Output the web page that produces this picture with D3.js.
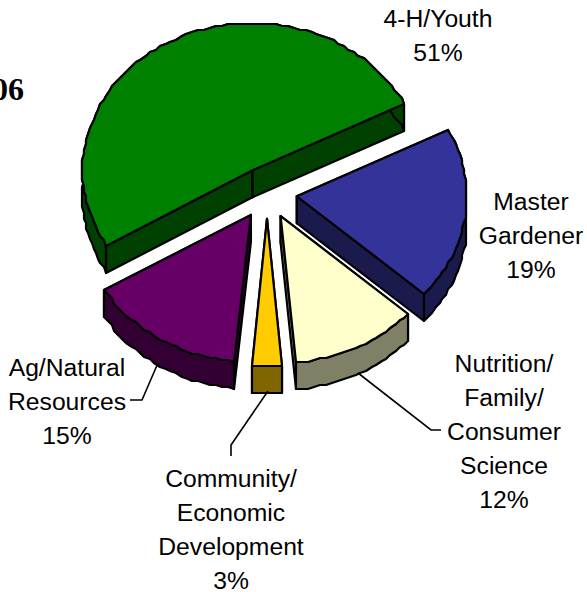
<!DOCTYPE html>
<html>
<head>
<meta charset="utf-8">
<script src="https://cdnjs.cloudflare.com/ajax/libs/d3/7.8.5/d3.min.js"></script>
<style>
  html, body { margin: 0; padding: 0; background: #fff; overflow: hidden; }
  text { font-family: "Liberation Sans", Arial, sans-serif; fill: #000; }
</style>
</head>
<body>
<div id="chart"></div>
<script>
// chart values
const categories = ['4-H/Youth', 'Master Gardener', 'Nutrition/ Family/ Consumer Science', 'Community/ Economic Development', 'Ag/Natural Resources']
const shares = [51, 19, 12, 3, 15]
const topColors = ['#008000', '#333399', '#ffffcc', '#ffcc00', '#660066']
const wallColors = ['#004000', '#1a1a4d', '#808066', '#806600', '#330033']

const width = 587
const height = 592
const cx = 267
const cy = 193
const rx = 170
const ry = 147
const depth = 27
const explode = 30
const firstAngle = 239.4

const svg = d3.select('#chart').append('svg')
    .attr('width', width)
    .attr('height', height)

const pie = d3.pie()
    .sort(null)
    .value(d => d)
    .startAngle(firstAngle * Math.PI / 180)
    .endAngle((firstAngle + 360) * Math.PI / 180)

// scales project the flat pie on to the tilted plane
const xScale = d3.scaleLinear().domain([-1, 1]).range([-rx, rx])
const yScale = d3.scaleLinear().domain([-1, 1]).range([ry, -ry])

// the original curves are stepped, so snap the rim to a coarse grid
const snap = v => Math.round(v / 2) * 2

const slices = pie(shares).map((d, i) => {
    const mid = (d.startAngle + d.endAngle) / 2
    const ox = cx + Math.sin(mid) * explode
    const oy = cy - Math.cos(mid) * explode * ry / rx
    const n = Math.max(4, Math.round((d.endAngle - d.startAngle) * 28))
    const rim = d3.range(n + 1).map(j => {
        const a = d.startAngle + (d.endAngle - d.startAngle) * j / n
        return [snap(ox + xScale(Math.sin(a))), snap(oy + yScale(Math.cos(a)))]
    })
    return { i, ox, oy, rim }
})

const line = d3.line()
const down = p => [p[0], p[1] + depth]

// back to front so that the nearer slices sit on top
const order = [0, 1, 4, 2, 3]
order.forEach(i => {
    const s = slices[i]
    const g = svg.append('g')
        .attr('stroke', '#000')
        .attr('stroke-width', 2.2)
        .attr('stroke-linejoin', 'round')
    const apex = [s.ox, s.oy]
    const first = s.rim[0]
    const last = s.rim[s.rim.length - 1]
    // the two cut faces, back facing ones end up under the top face
    ;[first, last].forEach(p => {
        g.append('path')
            .attr('d', line([apex, p, down(p), down(apex)]) + 'Z')
            .attr('fill', wallColors[i])
    })
    g.append('path')
        .attr('d', line(s.rim.concat(s.rim.map(down).reverse())) + 'Z')
        .attr('fill', wallColors[i])
    g.append('path')
        .attr('d', line([apex].concat(s.rim)) + 'Z')
        .attr('fill', topColors[i])
})

// leader lines
const leaders = [
    [[130, 400], [142, 400], [158, 363]],
    [[358, 373], [431, 430], [441, 430]],
    [[268, 391], [231, 445], [231, 456]]
]
leaders.forEach(l => {
    svg.append('path')
        .attr('d', line(l))
        .attr('fill', 'none')
        .attr('stroke', '#000')
        .attr('stroke-width', 1.6)
})

// label text, one row per line
const labelLines = [
    ['4-H/Youth', '51%'],
    ['Master', 'Gardener', '19%'],
    ['Nutrition/', 'Family/', 'Consumer', 'Science', '12%'],
    ['Community/', 'Economic', 'Development', '3%'],
    ['Ag/Natural', 'Resources', '15%']
]
const labelPos = [[438, 27], [531, 210], [504, 372], [231, 487], [67, 376]]
labelLines.forEach((rows, i) => {
    svg.append('text')
        .attr('font-size', 24.7)
        .attr('text-anchor', 'middle')
        .selectAll('tspan')
        .data(rows)
        .join('tspan')
        .attr('x', labelPos[i][0])
        .attr('y', (d, j) => labelPos[i][1] + j * 34)
        .text(d => d)
})

svg.append('text')
    .attr('x', 24)
    .attr('y', 100)
    .attr('text-anchor', 'end')
    .attr('font-size', 32)
    .attr('font-weight', 'bold')
    .style('font-family', '"Liberation Serif", "Times New Roman", serif')
    .text('06')
</script>
</body>
</html>
